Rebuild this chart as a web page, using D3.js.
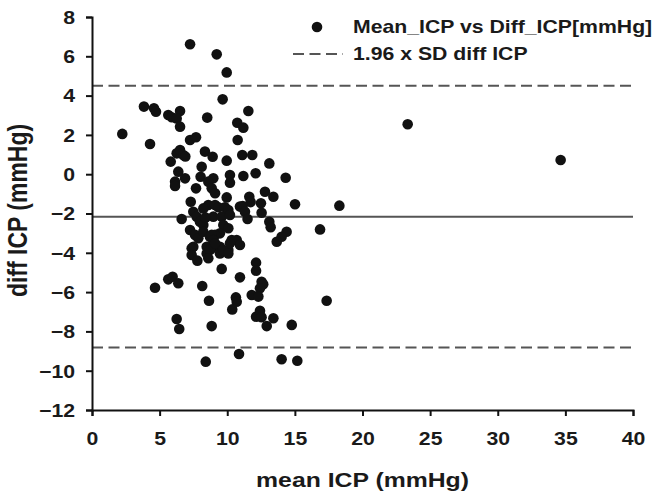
<!DOCTYPE html>
<html>
<head>
<meta charset="utf-8">
<script src="https://cdn.jsdelivr.net/npm/d3@7"></script>
<style>
    body { margin: 0; background: #ffffff; }
    svg text { font-family: "Liberation Sans", Arial, sans-serif; font-weight: bold; fill: #1a1a1a; }
</style>
</head>
<body>
<svg id="bland-altman" width="655" height="492"></svg>
<script>
// ------------------ Data ------------------ //
const meanICP = [
    7.25, 9.22, 9.96, 9.66,
    3.84, 4.58, 4.73, 5.64, 5.9, 6.51, 6.26, 6.51,
    8.52, 11.56, 10.74, 11.19,
    2.24, 4.29, 7.25, 7.69, 10.77,
    5.82, 6.26, 6.51, 6.75, 6.9,
    8.35, 8.92, 9.96, 11.11, 11.85, 13.11,
    6.38, 6.88, 8.11, 8.03, 6.14, 6.14,
    8.97, 10.2, 10.2, 11.19, 12.1, 14.32,
    7.69, 8.6, 8.85, 9.1, 9.96,
    12.79, 13.41, 11.63, 11.73, 12.49, 12.54,
    15.01, 18.29, 23.34, 34.65,
    7.3, 7.49, 7.74, 7.98, 8.23, 6.63,
    8.6, 9.1, 8.23, 9.34, 9.83, 10.08, 8.97, 9.59, 10.2, 8.4,
    10.94, 11.14, 11.31, 11.5,
    16.86, 13.11, 13.21, 14.39, 14.02, 13.66,
    7.25, 7.62, 7.86, 7.49,
    9.71, 10.08, 9.46, 8.23, 8.72, 9.1, 8.85, 8.97,
    10.33, 10.7, 10.94, 8.48, 8.85, 9.46, 10.08,
    7.37, 7.37, 7.79, 8.48, 8.72, 9.1, 9.46, 9.7, 10.08, 10.2, 8.6,
    9.59, 12.13, 12.13, 10.94,
    4.66, 5.64, 5.96, 6.38, 8.15,
    8.65, 6.26, 6.45, 8.85,
    10.64, 10.7, 10.37,
    11.81, 12.54, 12.66, 12.42, 12.3,
    12.13, 12.42, 12.54, 12.92, 13.41, 14.77, 17.35,
    8.41, 10.87, 14.02, 15.18
];
const diffICP = [
    6.61, 6.10, 5.18, 3.81,
    3.44, 3.35, 3.18, 3.01, 2.9, 3.22, 2.84, 2.42,
    2.88, 3.22, 2.62, 2.37,
    2.05, 1.54, 1.74, 1.88, 1.74,
    0.64, 1.06, 1.23, 0.98, 0.9,
    1.15, 0.89, 0.69, 0.98, 0.98, 0.55,
    0.13, -0.21, 0.38, -0.13, -0.38, -0.6,
    -0.21, -0.04, -0.43, -0.09, 0.05, -0.18,
    -0.72, -0.38, -0.72, -0.97, -1.18,
    -0.89, -1.15, -1.15, -1.42, -1.48, -1.96,
    -1.53, -1.60, 2.54, 0.72,
    -1.40, -1.91, -2.16, -2.42, -2.59, -2.28,
    -1.57, -1.57, -1.74, -1.68, -1.68, -1.82, -2.16, -2.16, -2.08, -2.2,
    -1.65, -1.62, -1.91, -2.28,
    -2.81, -2.42, -2.70, -2.93, -3.18, -3.44,
    -2.84, -3.09, -3.26, -3.69,
    -2.59, -2.75, -3.01, -2.93, -3.18, -3.09, -3.09, -3.35,
    -3.35, -3.35, -3.60, -3.69, -3.77, -3.69, -3.86,
    -3.77, -4.11, -4.40, -4.03, -3.86, -3.52, -4.03, -3.86, -4.03, -3.52, -4.28,
    -4.82, -4.50, -4.91, -5.25,
    -5.78, -5.35, -5.22, -5.55, -5.69,
    -6.44, -7.37, -7.88, -7.73,
    -6.27, -6.49, -6.88,
    -6.15, -5.47, -5.60, -5.81, -6.23,
    -7.25, -6.95, -7.28, -7.73, -7.33, -7.67, -6.44,
    -9.54, -9.15, -9.42, -9.49
];
const xTicks = [0, 5, 10, 15, 20, 25, 30, 35, 40];
const yTicks = [-12, -10, -8, -6, -4, -2, 0, 2, 4, 6, 8];
const meanDiff = -2.16;
const limits = [4.5, -8.82];
const legendLabels = ["Mean_ICP vs Diff_ICP[mmHg]", "1.96 x SD diff ICP"];

// ------------------ Bland-Altman plot ------------------ //
const svg = d3.select("#bland-altman"),
    width = +svg.attr("width"),
    height = +svg.attr("height"),
    margin = { top: 17, right: 22, bottom: 82, left: 92 },
    chartWidth = width - margin.left - margin.right,
    chartHeight = height - margin.top - margin.bottom;

// text in the reference is a bit wider than plain Arial
const stretch = 1.18;

const chart = svg.append("g")
    .attr("transform", `translate(${margin.left},${margin.top})`);

const x = d3.scaleLinear().domain([0, 40]).range([0, chartWidth]);
const y = d3.scaleLinear().domain([-12, 8]).range([chartHeight, 0]);

// Reference lines
chart.append("line")
    .attr("x1", x(0)).attr("x2", x(40))
    .attr("y1", y(meanDiff)).attr("y2", y(meanDiff))
    .attr("stroke", "#555").attr("stroke-width", 2);

chart.selectAll(".limit")
    .data(limits)
    .join("line")
    .attr("class", "limit")
    .attr("x1", x(0)).attr("x2", x(40))
    .attr("y1", d => y(d)).attr("y2", d => y(d))
    .attr("stroke", "#555").attr("stroke-width", 2)
    .attr("stroke-dasharray", "11,5.5");

// Points
chart.append("g")
    .selectAll("circle")
    .data(meanICP.map((m, i) => ({ m, d: diffICP[i] })))
    .join("circle")
    .attr("cx", d => x(d.m))
    .attr("cy", d => y(d.d))
    .attr("r", 5.3)
    .attr("fill", "#111");

// Axes
const xAxis = chart.append("g")
    .attr("transform", `translate(0,${chartHeight})`)
    .call(d3.axisBottom(x).tickValues(xTicks).tickSize(6).tickSizeOuter(6));

const yAxis = chart.append("g")
    .call(d3.axisLeft(y).tickValues(yTicks).tickSize(6).tickSizeOuter(6));

[xAxis, yAxis].forEach(a => {
    a.attr("font-size", null).attr("font-family", null);
    a.selectAll("path, line").attr("stroke", "#111").attr("stroke-width", 2);
    a.selectAll("text").style("font-size", "18px");
});

xAxis.selectAll("text")
    .attr("y", 0).attr("dy", null)
    .attr("transform", `translate(0,35) scale(${stretch},1)`);

yAxis.selectAll("text")
    .attr("x", 0).attr("dy", "0.35em")
    .attr("transform", `translate(-17,0) scale(${stretch},1)`);

// X-Y Axis Labels
chart.append("text")
    .attr("text-anchor", "middle")
    .attr("transform", `translate(${chartWidth / 2},${chartHeight + 77}) scale(${stretch},1)`)
    .style("font-size", "21px")
    .text("mean ICP (mmHg)");

svg.append("text")
    .attr("text-anchor", "middle")
    .attr("transform", `translate(27,${margin.top + chartHeight / 2 - 3}) scale(${stretch},1) rotate(-90)`)
    .style("font-size", "23px")
    .text("diff ICP (mmHg)");

// Legend
const legend = svg.append("g");

legend.append("circle")
    .attr("cx", 317).attr("cy", 27).attr("r", 5.3)
    .attr("fill", "#111");

legend.append("line")
    .attr("x1", 293).attr("x2", 343)
    .attr("y1", 54).attr("y2", 54)
    .attr("stroke", "#555").attr("stroke-width", 2)
    .attr("stroke-dasharray", "11,5.5");

legendLabels.forEach((label, i) => {
    legend.append("text")
        .attr("transform", `translate(353,${33 + i * 27}) scale(${stretch},1)`)
        .style("font-size", "18px")
        .text(label);
});
</script>
</body>
</html>
